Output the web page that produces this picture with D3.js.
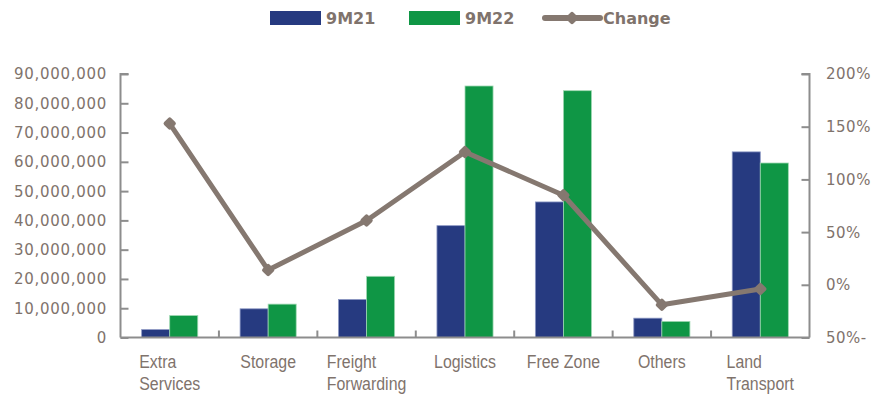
<!DOCTYPE html>
<html>
<head>
<meta charset="utf-8">
<script src="https://cdn.jsdelivr.net/npm/d3@7"></script>
<style>
  html, body { margin: 0; padding: 0; background: #fff; }
  svg { display: block; }
</style>
</head>
<body>
<div id="chart"></div>
<script>
////////// Data //////////
const categories = [['Extra', 'Services'], ['Storage'], ['Freight', 'Forwarding'], ['Logistics'], ['Free Zone'], ['Others'], ['Land', 'Transport']];
const values9M21 = [2700000, 9800000, 13000000, 38200000, 46300000, 6600000, 63400000];
const values9M22 = [7500000, 11400000, 20900000, 85900000, 84300000, 5500000, 59600000];
const changePct = [153, 14, 61, 126, 85, -19, -4];
const leftTicks = [0, 10000000, 20000000, 30000000, 40000000, 50000000, 60000000, 70000000, 80000000, 90000000];
const rightTicks = [-50, 0, 50, 100, 150, 200];
const seriesNames = ['9M21', '9M22', 'Change'];

////////// Defs //////////
const width = 878, height = 396;
const plot = { left: 120.5, right: 809.5, top: 74, bottom: 337.5 };
const blue = '#263a80', green = '#0f9645', lineColor = '#857870';
const textColor = '#7f736c', axisColor = '#8d8d8d';
const numFont = '"DejaVu Sans", sans-serif';
const catFont = '"Liberation Sans", Arial, sans-serif';
const narrow = 0.86; // squeeze to mimic a narrow face

const svg = d3.select('#chart').append('svg')
  .attr('width', width)
  .attr('height', height);

const keys = categories.map((d, i) => i);

const x = d3.scaleBand()
  .domain(keys)
  .range([plot.left, plot.right])
  .paddingInner(0)
  .paddingOuter(0);

const groupWidth = x.bandwidth() * 0.57;
const x1 = d3.scaleBand()
  .domain([0, 1])
  .range([0, groupWidth]);

const yLeft = d3.scaleLinear().domain([0, 90000000]).range([plot.bottom, plot.top]);
const yRight = d3.scaleLinear().domain([-50, 200]).range([plot.bottom, plot.top]);

////////// Bars //////////
const barGroups = svg.append('g').attr('class', 'bars')
  .selectAll('g')
  .data(keys)
  .enter().append('g')
    .attr('transform', d => `translate(${x(d) + (x.bandwidth() - groupWidth) / 2}, 0)`);

barGroups.selectAll('rect')
  .data(i => [{ v: values9M21[i], s: 0 }, { v: values9M22[i], s: 1 }])
  .enter().append('rect')
    .attr('x', d => x1(d.s))
    .attr('y', d => yLeft(d.v))
    .attr('width', x1.bandwidth())
    .attr('height', d => yLeft(0) - yLeft(d.v))
    .attr('fill', d => d.s === 0 ? blue : green)
    .attr('stroke', d => d.s === 0 ? '#8d98c4' : '#9fd8b2')
    .attr('stroke-width', 0.8);

////////// Axes //////////
const axisG = svg.append('g').attr('class', 'axes');

// left axis, ticks pointing inward
const leftAxis = axisG.append('g')
  .attr('transform', `translate(${plot.left}, 0)`)
  .call(d3.axisRight(yLeft).tickValues(leftTicks).tickSize(8).tickFormat(''));
leftAxis.select('.domain').attr('d', `M8,${plot.top}H0V${plot.bottom}`);

axisG.append('g')
  .selectAll('text')
  .data(leftTicks)
  .enter().append('text')
    .attr('x', 107)
    .attr('y', d => yLeft(d))
    .attr('dy', '0.36em')
    .attr('text-anchor', 'end')
    .style('font', `15px ${numFont}`)
    .style('letter-spacing', '0.7px')
    .attr('fill', textColor)
    .text(d => d3.format(',')(d));

// right axis
const rightAxis = axisG.append('g')
  .attr('transform', `translate(${plot.right}, 0)`)
  .call(d3.axisLeft(yRight).tickValues(rightTicks).tickSize(8).tickFormat(''));
rightAxis.select('.domain').attr('d', `M-8,${plot.top}H0V${plot.bottom}`);

axisG.append('g')
  .selectAll('text')
  .data(rightTicks)
  .enter().append('text')
    .attr('x', 826)
    .attr('y', d => yRight(d))
    .attr('dy', '0.36em')
    .style('font', `15px ${numFont}`)
    .style('letter-spacing', '0.5px')
    .attr('fill', textColor)
    .text(d => d < 0 ? `${-d}%-` : `${d}%`);

// bottom axis with boundary ticks pointing up
const bottomAxis = axisG.append('g')
  .attr('transform', `translate(0, ${plot.bottom})`);
bottomAxis.append('line')
  .attr('x1', plot.left).attr('x2', plot.right)
  .attr('y1', 0).attr('y2', 0);
bottomAxis.selectAll('.xtick')
  .data(keys.slice(1))
  .enter().append('line')
    .attr('class', 'xtick')
    .attr('x1', d => x(d)).attr('x2', d => x(d))
    .attr('y1', 0).attr('y2', -7);

axisG.selectAll('path, line')
  .attr('stroke', axisColor)
  .attr('stroke-width', 2)
  .attr('fill', 'none');

// category labels: lines left aligned, block centred on band
const catLabels = axisG.append('g')
  .selectAll('g')
  .data(keys)
  .enter().append('g');

catLabels.each(function (i) {
  const g = d3.select(this);
  const t = g.append('text')
    .style('font', `18.5px ${catFont}`)
    .attr('fill', textColor);
  categories[i].forEach((line, j) => {
    t.append('tspan').attr('x', 0).attr('y', 368 + j * 22).text(line);
  });
  const w = d3.max(t.selectAll('tspan').nodes(), n => n.getComputedTextLength()) * narrow;
  g.attr('transform', `translate(${x(i) + x.bandwidth() / 2 - w / 2}, 0) scale(${narrow}, 1)`);
});

////////// Change line //////////
const cx = i => x(i) + x.bandwidth() / 2;
const lineG = svg.append('g').attr('class', 'changeLine');
lineG.append('path')
  .datum(keys)
  .attr('d', d3.line().x(cx).y(i => yRight(changePct[i])))
  .attr('fill', 'none')
  .attr('stroke', lineColor)
  .attr('stroke-width', 5)
  .attr('stroke-linejoin', 'round');

const marker = d3.symbol().type(d3.symbolSquare).size(34);
lineG.selectAll('.marker')
  .data(keys)
  .enter().append('path')
    .attr('class', 'marker')
    .attr('d', marker)
    .attr('transform', i => `translate(${cx(i)}, ${yRight(changePct[i])}) rotate(45)`)
    .attr('fill', lineColor)
    .attr('stroke', lineColor)
    .attr('stroke-width', 4)
    .attr('stroke-linejoin', 'round');

////////// Legend //////////
const legend = svg.append('g').attr('class', 'legend')
  .style('font', `bold 16px ${numFont}`);
const legendItems = [
  { name: seriesNames[0], x: 270, type: 'rect', color: blue },
  { name: seriesNames[1], x: 409, type: 'rect', color: green },
  { name: seriesNames[2], x: 545, type: 'line', color: lineColor }
];
legendItems.forEach(item => {
  if (item.type === 'rect') {
    legend.append('rect')
      .attr('x', item.x).attr('y', 11)
      .attr('width', 51).attr('height', 14)
      .attr('fill', item.color);
  } else {
    legend.append('line')
      .attr('x1', item.x).attr('x2', item.x + 55)
      .attr('y1', 18).attr('y2', 18)
      .attr('stroke', item.color)
      .attr('stroke-width', 6)
      .attr('stroke-linecap', 'round');
    legend.append('path')
      .attr('d', marker)
      .attr('transform', `translate(${item.x + 27}, 18) rotate(45)`)
      .attr('fill', item.color)
      .attr('stroke', item.color)
      .attr('stroke-width', 4)
      .attr('stroke-linejoin', 'round');
  }
  legend.append('text')
    .attr('x', item.x + (item.type === 'rect' ? 56 : 58))
    .attr('y', 18)
    .attr('dy', '0.36em')
    .attr('fill', textColor)
    .text(item.name);
});
</script>
</body>
</html>
